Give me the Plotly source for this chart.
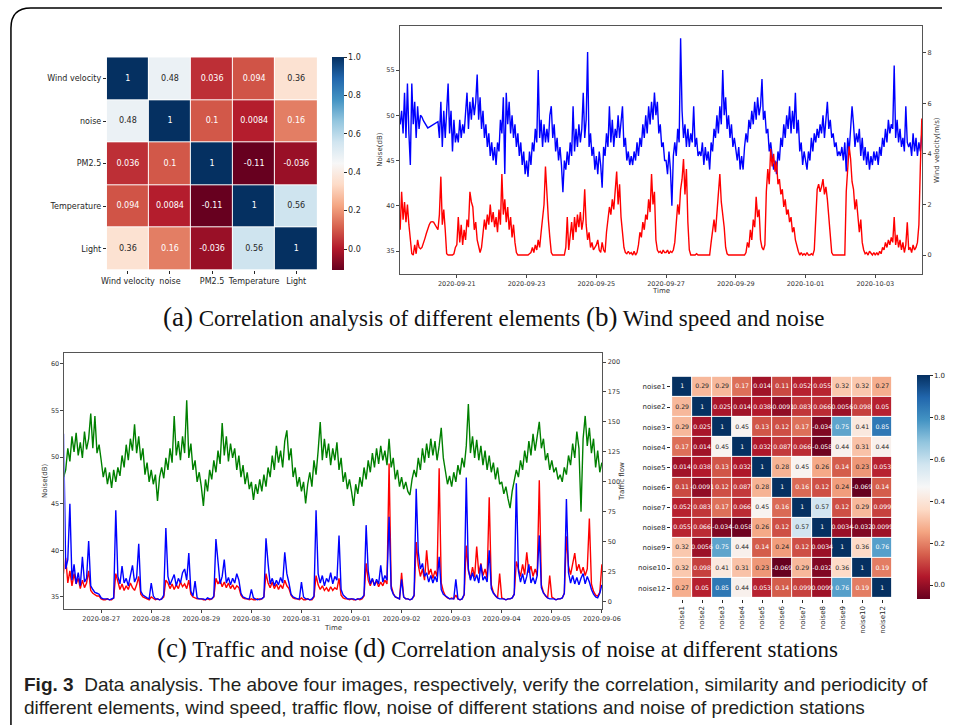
import pandas as pd
import plotly.graph_objects as go

# ---------------- data ----------------
# (a) correlation of different elements
a_labels = ["Wind velocity", "noise", "PM2.5", "Temperature", "Light"]
a_corr = [
    [1, 0.48, 0.036, 0.094, 0.36],
    [0.48, 1, 0.1, 0.0084, 0.16],
    [0.036, 0.1, 1, -0.11, -0.036],
    [0.094, 0.0084, -0.11, 1, 0.56],
    [0.36, 0.16, -0.036, 0.56, 1],
]

# (d) correlation of noise at different stations
d_labels = ["noise1", "noise2", "noise3", "noise4", "noise5", "noise6",
            "noise7", "noise8", "noise9", "noise10", "noise12"]
d_corr = [
    [1, 0.29, 0.29, 0.17, 0.014, 0.11, 0.052, 0.055, 0.32, 0.32, 0.27],
    [0.29, 1, 0.025, 0.014, 0.038, -0.0091, 0.083, 0.066, 0.0056, 0.098, 0.05],
    [0.29, 0.025, 1, 0.45, 0.13, 0.12, 0.17, -0.034, 0.75, 0.41, 0.85],
    [0.17, 0.014, 0.45, 1, 0.032, 0.087, 0.066, -0.058, 0.44, 0.31, 0.44],
    [0.014, 0.038, 0.13, 0.032, 1, 0.28, 0.45, 0.26, 0.14, 0.23, 0.053],
    [0.11, -0.0091, 0.12, 0.087, 0.28, 1, 0.16, 0.12, 0.24, -0.069, 0.14],
    [0.052, 0.083, 0.17, 0.066, 0.45, 0.16, 1, 0.57, 0.12, 0.29, 0.099],
    [0.055, 0.066, -0.034, -0.058, 0.26, 0.12, 0.57, 1, 0.0034, -0.032, 0.0099],
    [0.32, 0.0056, 0.75, 0.44, 0.14, 0.24, 0.12, 0.0034, 1, 0.36, 0.76],
    [0.32, 0.098, 0.41, 0.31, 0.23, -0.069, 0.29, -0.032, 0.36, 1, 0.19],
    [0.27, 0.05, 0.85, 0.44, 0.053, 0.14, 0.099, 0.0099, 0.76, 0.19, 1],
]

# (b) hourly noise (dB) and wind velocity (m/s), from 2020-09-19 09:00
b_start = "2020-09-19 09:00"
b_noise_days = [
    [49, 50.5, 48, 52.5, 47.5, 53.5, 48, 44.5, 53.5, 49, 51.5, 47.5, 51, 48.5, 50],
    [49.8, 49.4, 49.1, 48.8, 48.6, 48.7, 48.8, 48.9, 49.0, 49.1, 49.2, 49.3, 47.5, 51.5, 46.5, 50.5, 47.5, 51.5, 53.5, 48, 50.5, 46, 49.5, 47],
    [48, 47, 49.5, 47.5, 49, 48, 50, 52.5, 48.5, 51.5, 49.5, 52, 50, 51.5, 54.5, 49.5, 52, 48.5, 50.5, 47.5, 49, 46.5, 48, 45.5],
    [47, 45, 46.5, 44.5, 47, 46, 49.5, 48, 52, 43.5, 52.5, 49, 51.5, 48, 50, 47.5, 49, 46.5, 48, 45.5, 47, 44.5, 46, 43.5],
    [45, 43.2, 46, 44.5, 47, 46, 48.5, 47, 55, 47.5, 49.5, 46.5, 49, 47, 48.5, 47, 50, 51, 47.5, 49, 46, 47.5, 45, 46.5],
    [44.5, 41.5, 45, 44, 46, 44.5, 47, 45.5, 51, 46, 48.5, 46.5, 49, 47, 48.5, 52.5, 47.5, 49.5, 57, 46.5, 48, 45.5, 46.5, 44],
    [45.5, 43.5, 46, 44.5, 42, 46.5, 45.5, 48, 46.5, 51, 47, 49.5, 46.5, 48.5, 47.5, 50, 47.5, 49, 51, 46.5, 47.5, 45, 46, 44.5],
    [45.5, 44.5, 46, 45, 47, 45.5, 47.5, 46.5, 49, 47.5, 50, 48, 51, 49, 51.5, 49.5, 52.5, 50, 51.5, 48, 49, 46.5, 47, 45],
    [45, 43.5, 46, 44, 40, 45.5, 47, 45.5, 48.5, 47, 58.5, 50.5, 47.5, 49, 46.5, 48.5, 46.5, 48, 47, 51, 46.5, 47.5, 45.5, 46],
    [45.5, 47, 44.5, 46.5, 45, 46, 44, 47, 46, 48.5, 47.5, 50, 48, 51, 49, 55, 50, 52, 48.5, 50, 47.5, 49, 46.5, 47.5],
    [46, 45, 46.5, 44, 45.5, 44, 46.5, 48, 47, 49.5, 48.5, 50.5, 49, 51.5, 49.5, 52, 50, 51, 54, 49.5, 50.5, 48, 48.5, 46],
    [47, 45.5, 44, 45, 43.5, 46, 45, 47.5, 46.5, 49, 47.5, 50, 48.5, 51, 48, 50.5, 48.5, 52.5, 48, 49.5, 46, 47, 44.5, 46],
    [45, 44, 46, 45, 47.5, 46, 48, 47, 48.5, 47.5, 49, 48, 50, 47.5, 49.5, 51.5, 48.5, 49.5, 47.5, 48, 46.5, 47, 45.5, 46],
    [45.5, 46.5, 45, 47, 43.8, 47.5, 46, 48.5, 51, 49, 46.5, 48, 47, 48.5, 45.5, 47.5, 45, 46.5, 44.5, 46, 44, 45.5, 44.5, 46],
    [45, 46, 44.5, 46.5, 45.5, 47.5, 46.5, 48.5, 47, 49.5, 48, 49, 48.5, 55.5, 47.5, 49.5, 47, 48.5, 46.5, 47.5, 46, 51, 47, 46.5],
    [47, 45.5, 48, 46, 47.5, 45.5, 47, 46, 48],
]
b_wind_days = [
    [1.0, 2.5, 1.4, 2.1, 1.3, 2.0, 1.2, 0.6, 0.05, 0.0, 0.4, 0.05, 0.6, 0.3, 0.25],
    [0.3, 0.45, 0.65, 0.85, 1.05, 1.2, 1.3, 1.32, 1.3, 1.2, 1.05, 1.0, 1.6, 3.1, 1.2, 1.8, 1.0, 0.05, 0, 0, 0, 0, 0.05, 0.3],
    [0.4, 1.5, 0.5, 1.2, 0.4, 1.0, 0.6, 1.4, 1.1, 2.5, 2.1, 1.9, 1.0, 1.3, 0.6, 0.3, 0.1, 0.3, 0.9, 1.4, 1.0, 1.6, 1.2, 2.0],
    [1.3, 1.7, 1.1, 1.5, 0.9, 1.8, 1.2, 3.2, 1.6, 2.2, 1.3, 1.9, 1.0, 1.5, 0.7, 1.2, 0.5, 0.1, 0, 0, 0, 0, 0, 0],
    [0, 0, 0.05, 0.1, 0.3, 0.1, 0.4, 0.2, 0.6, 0.3, 0.9, 1.5, 2.0, 3.5, 2.2, 1.4, 0.7, 0.1, 0, 0, 0, 0, 0, 0],
    [0, 0, 0, 0.3, 1.5, 0.2, 0.8, 1.3, 0.6, 1.5, 0.9, 1.6, 1.1, 1.7, 1.0, 1.4, 2.6, 1.2, 0.6, 0.9, 0.3, 0.5, 0.2, 0.3],
    [0.4, 0.6, 0.2, 0.1, 0.5, 0.2, 0.1, 0.9, 1.5, 1.9, 1.6, 2.2, 1.8, 2.6, 3.3, 2.0, 2.8, 1.5, 0.8, 0.3, 0.1, 0.05, 0.15, 0.05],
    [0.1, 0, 0.15, 0, 0.1, 0.4, 0.9, 0.7, 1.3, 1.0, 1.6, 1.4, 2.2, 1.7, 3.2, 2.0, 2.5, 0.6, 0.2, 0.1, 0.15, 0.05, 0.2, 0.1],
    [0.1, 0.2, 0.05, 0.15, 0.1, 0.2, 0.5, 1.2, 2.0, 1.6, 2.6, 3.0, 3.8, 2.4, 3.4, 1.3, 0.2, 0, 0, 0, 0, 0.05, 0, 0],
    [0, 0, 0, 0, 0, 0, 0, 0.5, 1.0, 1.4, 0.9, 1.8, 2.4, 3.2, 2.1, 1.6, 1.1, 0.3, 0.05, 0, 0, 0, 0, 0],
    [0, 0, 0, 0, 0, 0, 0, 0.1, 0.5, 0.3, 1.0, 0.6, 1.4, 1.1, 2.3, 1.5, 1.8, 0.6, 0.3, 0.2, 0.4, 2.5, 3.4, 2.8],
    [4.2, 3.5, 4.0, 3.3, 3.7, 2.8, 3.0, 2.4, 2.6, 1.9, 2.2, 1.6, 1.8, 1.3, 1.5, 0.9, 1.1, 0.6, 0.3, 0.15, 0, 0.1, 0, 0.05],
    [0, 0.1, 0, 0, 0.05, 0, 0.2, 1.2, 2.6, 2.8, 2.5, 2.7, 3.0, 2.4, 2.7, 2.2, 1.5, 0.8, 0.1, 0, 0, 0, 0, 0],
    [0, 0, 0, 0, 2.5, 3.6, 4.3, 3.8, 2.9, 2.6, 1.8, 2.2, 1.6, 0.9, 1.4, 0.5, 0.2, 0.05, 0.1, 0, 0.15, 0.05, 0, 0.1],
    [0, 0.1, 0, 0.15, 0.05, 0.3, 0.2, 0.5, 0.3, 0.6, 0.4, 0.7, 0.5, 1.5, 0.4, 0.8, 0.3, 0.6, 0.2, 0.5, 0.1, 0.4, 1.3, 0.2],
    [0.3, 0.1, 0.4, 0.2, 0.3, 0.5, 1.2, 3.5, 5.4],
]

# (c) hourly traffic flow and noise of two stations, from 2020-08-26 06:00
c_start = "2020-08-26 06:00"
c_traffic_days = [
    [104, 110, 128, 117, 138, 125, 141, 122, 133, 120, 142, 127, 136, 157, 128, 155, 124, 131],
    [118, 104, 112, 98, 108, 95, 110, 100, 112, 105, 122, 112, 131, 118, 136, 126, 148, 124, 138, 118, 128, 106, 116, 100],
    [110, 98, 106, 84, 104, 112, 103, 120, 110, 128, 116, 155, 122, 134, 118, 138, 124, 168, 120, 132, 110, 118, 100, 108],
    [96, 80, 102, 92, 110, 102, 118, 108, 126, 115, 149, 122, 138, 117, 132, 120, 128, 110, 122, 104, 114, 98, 108, 94],
    [100, 85, 98, 90, 102, 92, 106, 96, 112, 104, 122, 110, 130, 116, 126, 112, 134, 143, 118, 128, 104, 112, 96, 104],
    [92, 100, 82, 98, 108, 96, 118, 106, 126, 150, 118, 136, 120, 132, 114, 128, 118, 133, 110, 120, 100, 108, 94, 102],
    [92, 80, 98, 90, 104, 96, 112, 102, 118, 108, 124, 112, 128, 115, 130, 118, 126, 114, 136, 112, 120, 102, 110, 96],
    [104, 94, 100, 92, 89, 102, 110, 104, 120, 110, 128, 116, 132, 120, 136, 122, 134, 118, 130, 145, 120, 108, 98, 105],
    [96, 108, 100, 114, 106, 120, 112, 130, 165, 124, 138, 120, 135, 118, 130, 114, 126, 110, 122, 108, 116, 102, 112, 98],
    [100, 90, 96, 86, 78, 92, 100, 110, 104, 118, 110, 126, 116, 134, 122, 140, 126, 138, 150, 128, 136, 118, 124, 110],
    [118, 108, 112, 102, 106, 100, 112, 106, 122, 114, 132, 120, 142, 128, 75, 136, 155, 130, 145, 124, 136, 112, 126, 108],
    [116],
]
c_noise_blue_days = [
    [52.5, 38, 39, 45, 36.8, 38.5, 36.4, 37.6, 36.2, 39.3, 36.6, 37, 41, 36.2, 35.8, 35.5, 35.4, 35.3],
    [34.9, 34.8, 34.8, 34.8, 34.7, 34.8, 34.9, 44.3, 37.2, 36.4, 38.3, 36.5, 37, 36.2, 37.4, 38.4, 36.6, 37.1, 40.7, 35.6, 35.2, 35, 34.9, 34.8],
    [36.5, 35.1, 34.8, 34.8, 34.7, 34.8, 35.2, 42.4, 37.2, 36.3, 36.8, 37.4, 36.2, 37, 36.5, 37.6, 38, 36.8, 39.7, 35.6, 35.1, 36.7, 34.9, 34.8],
    [34.8, 34.8, 34.7, 34.9, 34.8, 34.8, 35.1, 41.2, 38.8, 36.4, 37.2, 39, 36.5, 37.1, 36.3, 37, 36.5, 37.5, 36.8, 35.4, 35, 34.9, 34.8, 34.8],
    [35.8, 34.9, 34.8, 34.7, 34.8, 34.8, 35, 41.3, 38.6, 36.4, 37, 36.2, 36.8, 36.3, 37.1, 36.5, 39.8, 37.5, 36.5, 35.3, 35, 34.9, 34.8, 34.8],
    [36.6, 35, 34.8, 34.8, 34.7, 34.8, 35.1, 44.3, 37.5, 36.5, 37.3, 36.2, 37, 36.6, 37.6, 36.4, 37.2, 36.8, 41.6, 35.8, 35.2, 35, 34.8, 34.8],
    [34.8, 34.8, 34.7, 34.8, 34.8, 34.9, 35.2, 42.7, 37.8, 36.4, 37, 36.2, 36.9, 36.4, 38.4, 36.6, 37.3, 36.8, 43.6, 35.9, 35.3, 35, 34.9, 34.8],
    [36.9, 35, 34.8, 34.8, 34.7, 34.8, 35.2, 46.6, 39.8, 38, 38.6, 37.2, 37.6, 36.6, 37.3, 36.5, 37.2, 36.6, 39.3, 35.8, 35.3, 35.1, 34.9, 34.8],
    [34.8, 34.8, 36.9, 34.8, 34.7, 34.8, 35.3, 47.8, 38, 36.8, 37.6, 36.7, 37.4, 36.5, 38.5, 36.8, 37.2, 36.6, 40, 35.9, 35.4, 35.1, 34.9, 34.8],
    [34.8, 34.8, 34.7, 34.8, 34.8, 34.9, 35.3, 47.2, 37.8, 36.6, 37.5, 36.4, 37.2, 38.5, 36.5, 37.1, 36.4, 37.3, 41.6, 36, 35.4, 35.1, 34.9, 34.8],
    [34.8, 34.8, 34.7, 34.8, 34.8, 34.9, 35.4, 45.5, 37.6, 36.5, 37.3, 36.4, 37.1, 36.3, 37, 37.5, 36.4, 37.2, 36.6, 35.8, 35.3, 35, 34.9, 35.4],
    [36.3],
]
c_noise_red_days = [
    [37.5, 39.2, 36.5, 37.8, 36.2, 37.5, 36.4, 37, 35.9, 36.8, 36, 36.5, 37.8, 35.7, 35.4, 35.2, 35.1, 35.1],
    [34.8, 34.7, 34.7, 34.8, 34.7, 34.7, 34.9, 37.5, 36.6, 35.8, 36.4, 35.7, 36.2, 35.8, 36.5, 36, 35.7, 36.3, 37.2, 35.3, 35, 34.9, 34.8, 34.7],
    [35, 34.8, 34.7, 34.8, 34.7, 34.8, 35, 36.8, 36.5, 35.9, 36.4, 35.8, 36.3, 35.9, 36.6, 36.1, 36.4, 35.9, 36.8, 35.3, 35, 34.9, 34.8, 34.8],
    [34.8, 34.7, 34.7, 34.8, 34.7, 34.8, 35, 37, 36.4, 36.8, 36.1, 36.6, 36, 36.5, 35.9, 36.3, 35.8, 36.2, 36, 35.2, 34.9, 34.8, 34.8, 34.7],
    [34.8, 34.7, 34.7, 34.8, 34.7, 34.8, 35, 37.5, 36.5, 36, 36.6, 35.9, 36.4, 35.8, 36.3, 35.9, 36.8, 36.2, 35.9, 35.2, 34.9, 34.8, 34.8, 34.7],
    [34.9, 34.7, 34.7, 34.8, 34.7, 34.7, 35, 37.3, 36.3, 35.8, 36.2, 35.7, 36, 35.6, 36.1, 35.7, 36, 35.8, 37, 35.2, 34.9, 34.8, 34.8, 34.7],
    [34.8, 34.7, 34.7, 34.8, 34.7, 34.8, 35.1, 38.6, 36.8, 36.2, 36.9, 36.3, 36.7, 36.1, 36.6, 36.2, 36.8, 36.4, 49.3, 36.2, 35.4, 35, 34.9, 34.8],
    [37.6, 35, 34.8, 34.8, 34.7, 34.8, 35.1, 40.9, 38.4, 37.2, 38, 36.8, 40, 37.4, 38, 37, 37.8, 37.2, 48.8, 36.5, 35.6, 35.1, 34.9, 34.8],
    [34.9, 34.8, 35.2, 34.8, 34.7, 34.8, 35.2, 40.5, 37.8, 37, 38.2, 37.1, 40.4, 37.5, 38.6, 37.3, 38, 37, 45.7, 36.3, 35.5, 35.1, 34.9, 37.5],
    [34.9, 34.8, 34.7, 34.8, 34.8, 34.9, 35.3, 38.8, 38, 37.2, 38.5, 37.4, 39.8, 37.6, 38.3, 37.2, 38, 37.3, 47.5, 36.3, 35.5, 35.1, 34.9, 37.3],
    [35, 34.8, 34.7, 34.8, 34.8, 34.9, 35.4, 41.5, 38.3, 37.4, 38.6, 39.7, 37.8, 38.5, 37.5, 38.2, 37.3, 38, 43.4, 36.4, 35.6, 35.2, 35.1, 35.5],
    [38.5],
]

captions = [
    "<span style='font-size:27px'>(a)</span> Correlation analysis of different elements "
    "<span style='font-size:27px'>(b)</span> Wind speed and noise",
    "<span style='font-size:27px'>(c)</span> Traffic and noise "
    "<span style='font-size:27px'>(d)</span> Correlation analysis of noise at different stations",
]
fig_caption = [
    "<b>Fig. 3</b>  Data analysis. The above four images, respectively, verify the correlation, similarity and periodicity of",
    "different elements, wind speed, traffic flow, noise of different stations and noise of prediction stations",
]

# ---------------- helpers ----------------
W, H = 960, 725
# the page is photographed ~945 px wide horizontally; place items on that basis
W_EFF = 945.0


def flat(days):
    out = []
    for d in days:
        out.extend(d)
    return out


RDBU = ["#67001f", "#b2182b", "#d6604d", "#f4a582", "#fddbc7", "#f7f7f7",
        "#d1e5f0", "#92c5de", "#4393c3", "#2166ac", "#053061"]
colorscale = [[i / 10, c] for i, c in enumerate(RDBU)]


def hex2rgb(h):
    h = h.lstrip("#")
    return [int(h[i:i + 2], 16) / 255 for i in (0, 2, 4)]


def cmap(t):
    t = min(max(t, 0), 1) * 10
    i = min(int(t), 9)
    f = t - i
    a, b = hex2rgb(RDBU[i]), hex2rgb(RDBU[i + 1])
    return [a[k] + (b[k] - a[k]) * f for k in range(3)]


def lum(rgb):
    lin = [c / 12.92 if c <= 0.03928 else ((c + 0.055) / 1.055) ** 2.4 for c in rgb]
    return 0.2126 * lin[0] + 0.7152 * lin[1] + 0.0722 * lin[2]


def text_trace(labels, mat, xa, ya, size):
    zmin = min(min(r) for r in mat)
    zmax = max(max(r) for r in mat)
    xs, ys, ts, cs = [], [], [], []
    for i, rl in enumerate(labels):
        for j, cl in enumerate(labels):
            v = mat[i][j]
            xs.append(cl)
            ys.append(rl)
            ts.append(format(v, ".2g"))
            l = lum(cmap((v - zmin) / (zmax - zmin)))
            cs.append("#262626" if l > 0.408 else "#ffffff")
    return go.Scatter(x=xs, y=ys, text=ts, mode="text", xaxis=xa, yaxis=ya,
                      textfont=dict(size=size, color=cs, family="DejaVu Sans"),
                      hoverinfo="skip", showlegend=False)


def px_x(x):
    return min(x / W_EFF, 1.0)


def px_y(y):
    return 1 - y / H


fig = go.Figure()

# (a) heatmap
fig.add_trace(go.Heatmap(
    z=a_corr, x=a_labels, y=a_labels, colorscale=colorscale,
    zmin=min(min(r) for r in a_corr), zmax=max(max(r) for r in a_corr),
    xgap=1, ygap=1, xaxis="x", yaxis="y", hoverinfo="skip",
    colorbar=dict(x=px_x(330), xanchor="left", thickness=12, lenmode="pixels", len=213,
                  y=px_y((57.3 + 270) / 2), yanchor="middle", xpad=0, ypad=0,
                  outlinewidth=0, ticks="outside", ticklen=3, tickcolor="#262626",
                  tickvals=[0, 0.2, 0.4, 0.6, 0.8, 1.0], tickformat=".1f",
                  tickfont=dict(size=8, color="#262626", family="DejaVu Sans")),
))
fig.add_trace(text_trace(a_labels, a_corr, "x", "y", 8))

LW = 1.4
# (b) time series
b_noise = flat(b_noise_days)
b_wind = flat(b_wind_days)
b_time = pd.date_range(b_start, periods=len(b_noise), freq="h")
fig.add_trace(go.Scatter(x=b_time, y=b_noise, mode="lines", line=dict(color="#0000ff", width=LW),
                         xaxis="x2", yaxis="y2", showlegend=False, hoverinfo="skip"))
fig.add_trace(go.Scatter(x=b_time[:len(b_wind)], y=b_wind, mode="lines", line=dict(color="#ff0000", width=LW),
                         xaxis="x2", yaxis="y3", showlegend=False, hoverinfo="skip"))

# (c) time series
c_traffic = flat(c_traffic_days)
c_blue = flat(c_noise_blue_days)
c_red = flat(c_noise_red_days)
c_time = pd.date_range(c_start, periods=len(c_blue), freq="h")
fig.add_trace(go.Scatter(x=c_time[:len(c_red)], y=c_red, mode="lines", line=dict(color="#ff0000", width=LW),
                         xaxis="x3", yaxis="y4", showlegend=False, hoverinfo="skip"))
fig.add_trace(go.Scatter(x=c_time, y=c_blue, mode="lines", line=dict(color="#0000ff", width=LW),
                         xaxis="x3", yaxis="y4", showlegend=False, hoverinfo="skip"))
fig.add_trace(go.Scatter(x=c_time[:len(c_traffic)], y=c_traffic, mode="lines", line=dict(color="#008000", width=LW),
                         xaxis="x3", yaxis="y5", showlegend=False, hoverinfo="skip"))

# (d) heatmap
fig.add_trace(go.Heatmap(
    z=d_corr, x=d_labels, y=d_labels, colorscale=colorscale,
    zmin=min(min(r) for r in d_corr), zmax=max(max(r) for r in d_corr),
    xgap=1, ygap=1, xaxis="x4", yaxis="y6", hoverinfo="skip",
    colorbar=dict(x=px_x(920), xanchor="left", thickness=12.5, lenmode="pixels", len=223.6,
                  y=px_y((375.7 + 599.3) / 2), yanchor="middle", xpad=0, ypad=0,
                  outlinewidth=0, ticks="outside", ticklen=3, tickcolor="#262626",
                  tickvals=[0, 0.2, 0.4, 0.6, 0.8, 1.0], tickformat=".1f",
                  tickfont=dict(size=7, color="#262626", family="DejaVu Sans")),
))
fig.add_trace(text_trace(d_labels, d_corr, "x4", "y6", 6.2))

# ---------------- layout ----------------
hm_axis = dict(showgrid=False, zeroline=False, ticks="outside", ticklen=3, tickcolor="#262626",
               showline=False)
ts_axis = dict(showgrid=False, zeroline=False, ticks="outside", ticklen=3, tickcolor="#444",
               showline=True, linecolor="#555", linewidth=1,
               tickfont=dict(size=6.5, color="#333", family="DejaVu Sans"))

fig.update_layout(
    width=W, height=H, autosize=False, margin=dict(l=0, r=0, t=0, b=0),
    paper_bgcolor="white", plot_bgcolor="white", hovermode=False,
    font=dict(family="DejaVu Sans", color="#262626"),
    # (a)
    xaxis=dict(hm_axis, domain=[px_x(102.7), px_x(315)], anchor="y", tickangle=0,
               tickfont=dict(size=8, color="#262626")),
    yaxis=dict(hm_axis, domain=[px_y(270), px_y(57.3)], anchor="x", autorange="reversed",
               tickfont=dict(size=8, color="#262626")),
    # (b)
    xaxis2=dict(ts_axis, domain=[px_x(398.3), px_x(925)], anchor="y2", type="date",
                range=["2020-09-19 08:50", "2020-10-04 08:15"], tick0="2020-09-21",
                dtick=2 * 86400000, tickformat="%Y-%m-%d", mirror=True),
    yaxis2=dict(ts_axis, domain=[px_y(274), px_y(25.7)], anchor="x2",
                range=[32.46, 59.9], tick0=35, dtick=5, mirror=True),
    yaxis3=dict(ts_axis, overlaying="y2", side="right", anchor="x2",
                range=[-0.75, 9.07], tickvals=[0, 2, 4, 6, 8]),
    # (c)
    xaxis3=dict(ts_axis, domain=[px_x(60), px_x(602.5)], anchor="y4", type="date",
                range=["2020-08-26 06:25", "2020-09-06 00:15"], tick0="2020-08-27",
                dtick=86400000, tickformat="%Y-%m-%d", mirror=True),
    yaxis4=dict(ts_axis, domain=[px_y(609.3), px_y(353.3)], anchor="x3",
                range=[33.68, 61.12], tick0=35, dtick=5, mirror=True),
    yaxis5=dict(ts_axis, overlaying="y4", side="right", anchor="x3",
                range=[-6.34, 207.26], tick0=0, dtick=25),
    # (d)
    xaxis4=dict(hm_axis, domain=[px_x(671.7), px_x(896)], anchor="y6", tickangle=-90,
                tickfont=dict(size=7, color="#262626")),
    yaxis6=dict(hm_axis, domain=[px_y(599.3), px_y(375.7)], anchor="x4", autorange="reversed",
                tickfont=dict(size=7, color="#262626")),
)

# axis titles
small = dict(size=7, color="#333", family="DejaVu Sans")
titles = [
    ("Noise(dB)", 378, (25.7 + 274) / 2, -90),
    ("Wind velocity(m/s)", 940, (25.7 + 274) / 2, -90),
    ("Time", (398.3 + 925) / 2, 291, 0),
    ("Noise(dB)", 41, (353.3 + 609.3) / 2, -90),
    ("Traffic flow", 623, (353.3 + 609.3) / 2, -90),
    ("Time", (60 + 602.5) / 2, 628, 0),
]
for txt, x, y, ang in titles:
    fig.add_annotation(text=txt, x=px_x(x), y=px_y(y), xref="paper", yref="paper",
                       showarrow=False, textangle=ang, font=small,
                       xanchor="center", yanchor="middle")

# captions
fig.add_annotation(text=captions[0], x=px_x(492.5), y=px_y(317), xref="paper", yref="paper",
                   showarrow=False, xanchor="center", yanchor="middle",
                   font=dict(family="Liberation Serif", size=23, color="#111"))
fig.add_annotation(text=captions[1], x=px_x(497), y=px_y(648), xref="paper", yref="paper",
                   showarrow=False, xanchor="center", yanchor="middle",
                   font=dict(family="Liberation Serif", size=23, color="#111"))
fig.add_annotation(text=fig_caption[0], x=px_x(17), y=px_y(684), xref="paper", yref="paper",
                   showarrow=False, xanchor="left", yanchor="middle",
                   font=dict(family="Liberation Sans", size=19, color="#231f20"))
fig.add_annotation(text=fig_caption[1], x=px_x(17), y=px_y(707), xref="paper", yref="paper",
                   showarrow=False, xanchor="left", yanchor="middle",
                   font=dict(family="Liberation Sans", size=19, color="#231f20"))

# outer rounded frame
fig.add_shape(type="path", xref="paper", yref="paper",
              path=f"M {px_x(6)},0 L {px_x(6)},{px_y(28)} Q {px_x(6)},{px_y(8)} {px_x(26)},{px_y(8)} L 1,{px_y(8)}",
              line=dict(color="black", width=1.5))

fig.write_html("out.html", config={"responsive": False},
               post_script="document.body.style.margin='0';document.body.style.overflow='hidden';")
